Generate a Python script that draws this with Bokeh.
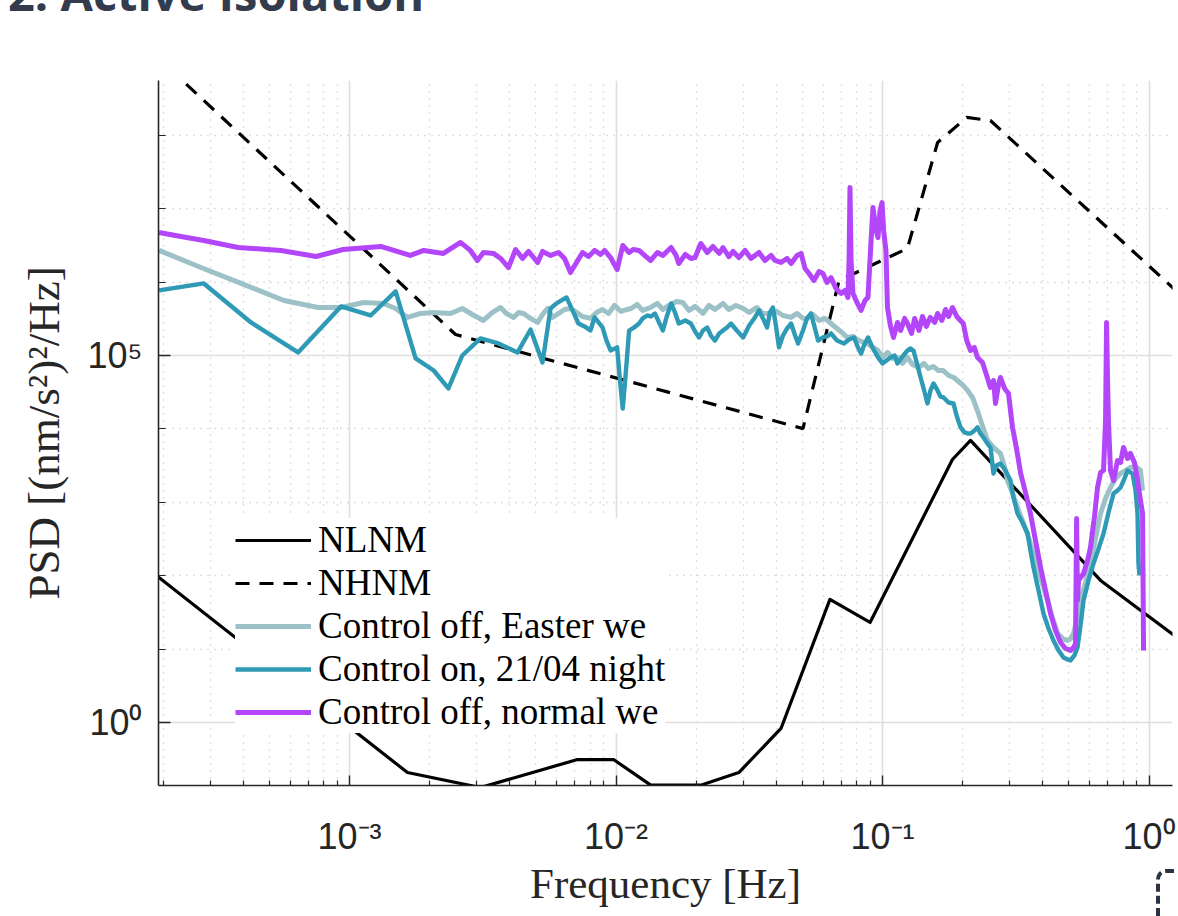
from bokeh.plotting import figure
from bokeh.layouts import column
from bokeh.models import Range1d, FixedTicker, Div
from bokeh.embed import file_html
from bokeh.resources import INLINE

# ---------------- data ----------------
nlnm_freq = [1.65e-4, 1.65e-3, 3.10e-3, 7.17e-3, 9.79e-3, 1.35e-2, 2.08e-2, 2.89e-2,
             4.16e-2, 6.35e-2, 8.98e-2, 1.83e-1, 2.14e-1, 6.58e-1, 1.32]
nlnm_psd = [147, 0.208, 0.130, 0.313, 0.313, 0.140, 0.140, 0.208,
            0.829, 47.5, 23.1, 3830, 6960, 86.2, 13.1]

nhnm_freq = [1.80e-4, 2.50e-3, 5.03e-2, 6.87e-2, 1.24e-1, 1.61e-1, 2.07e-1, 2.54e-1, 1.32]
nhnm_psd = [1.39e9, 1.93e5, 1.01e4, 1.05e6, 2.87e6, 7.99e7, 1.75e8, 1.59e8, 6.58e5]

easter_freq = [
    1.93e-4, 2.77e-4, 3.92e-4, 5.68e-4, 7.62e-4, 9.29e-4, 1.13e-3, 1.34e-3, 1.49e-3, 1.65e-3,
    1.85e-3, 2.07e-3, 2.39e-3, 2.65e-3, 2.89e-3, 3.18e-3, 3.44e-3, 3.69e-3, 3.88e-3, 4.13e-3,
    4.31e-3, 4.50e-3, 4.78e-3, 5.08e-3, 5.30e-3, 5.53e-3, 5.78e-3, 6.09e-3, 6.41e-3, 6.75e-3,
    7.11e-3, 7.49e-3, 8.02e-3, 8.45e-3, 8.90e-3, 9.37e-3, 9.87e-3, 1.044e-2, 1.10e-2, 1.14e-2,
    1.20e-2, 1.26e-2, 1.35e-2, 1.43e-2, 1.50e-2, 1.58e-2, 1.69e-2, 1.78e-2, 1.88e-2, 1.98e-2,
    2.12e-2, 2.23e-2, 2.35e-2, 2.52e-2, 2.65e-2, 2.82e-2, 3.00e-2, 3.16e-2, 3.38e-2, 3.56e-2,
    3.82e-2, 4.02e-2, 4.23e-2, 4.54e-2, 4.78e-2, 5.03e-2, 5.21e-2, 5.49e-2, 5.78e-2, 6.09e-2,
    6.41e-2, 6.75e-2, 7.05e-2, 7.36e-2, 7.75e-2, 8.16e-2, 8.75e-2, 9.21e-2, 9.62e-2, 1.00e-1,
    1.044e-1, 1.09e-1, 1.138e-1, 1.189e-1, 1.241e-1, 1.296e-1, 1.365e-1, 1.43e-1, 1.488e-1, 1.55e-1,
    1.62e-1, 1.69e-1, 1.77e-1, 1.85e-1, 1.929e-1, 2.01e-1, 2.085e-1, 2.177e-1, 2.27e-1, 2.37e-1,
    2.477e-1, 2.61e-1, 2.77e-1, 2.87e-1, 2.945e-1, 3.075e-1, 3.21e-1, 3.35e-1, 3.50e-1, 3.65e-1,
    3.82e-1, 3.98e-1, 4.16e-1, 4.34e-1, 4.54e-1, 4.74e-1, 4.95e-1, 5.08e-1, 5.21e-1, 5.39e-1,
    5.53e-1, 5.78e-1, 6.03e-1, 6.30e-1, 6.58e-1, 6.87e-1, 7.17e-1, 7.49e-1, 7.82e-1, 8.16e-1,
    8.52e-1, 8.90e-1, 9.29e-1, 9.46e-1]
easter_psd = [
    2.70e6, 1.58e6, 9.59e5, 5.62e5, 4.51e5, 4.51e5, 5.28e5, 5.12e5, 4.37e5, 3.30e5,
    3.74e5, 3.86e5, 3.74e5, 4.37e5, 3.62e5, 3.00e5, 3.86e5, 4.51e5, 3.74e5, 3.30e5,
    3.86e5, 3.74e5, 3.20e5, 2.82e5, 3.62e5, 4.37e5, 3.30e5, 3.74e5, 4.24e5, 4.37e5,
    3.86e5, 3.40e5, 3.20e5, 3.86e5, 4.24e5, 3.74e5, 4.81e5, 3.98e5, 4.24e5, 4.37e5,
    4.96e5, 4.11e5, 4.51e5, 5.12e5, 4.24e5, 4.81e5, 5.45e5, 5.28e5, 4.11e5, 4.66e5,
    3.74e5, 4.81e5, 4.24e5, 5.12e5, 4.24e5, 4.81e5, 4.37e5, 3.86e5, 4.51e5, 3.74e5,
    3.74e5, 3.98e5, 3.51e5, 3.30e5, 3.74e5, 3.20e5, 3.20e5, 3.62e5, 3.00e5, 3.20e5,
    2.73e5, 2.33e5, 2.06e5, 1.76e5, 1.82e5, 1.60e5, 1.46e5, 1.29e5, 1.17e5, 9.41e4,
    1.10e5, 9.13e4, 9.41e4, 7.79e4, 9.41e4, 7.54e4, 6.86e4, 7.79e4, 6.64e4, 7.10e4,
    6.25e4, 6.25e4, 5.35e4, 5.02e4, 4.42e4, 3.90e4, 3.34e4, 2.68e4, 1.78e4, 1.11e4,
    6.96e3, 5.58e3, 4.63e3, 3.08e3, 1.98e3, 1.32e3, 8.51e2, 5.64e2, 3.76e2, 2.21e2,
    1.29e2, 7.84e1, 4.60e1, 2.70e1, 1.63e1, 1.39e1, 1.31e1, 1.39e1, 1.63e1, 2.70e1,
    4.60e1, 8.10e1, 1.47e2, 3.21e2, 7.05e2, 1.13e3, 1.59e3, 2.11e3, 2.47e3, 2.71e3,
    2.98e3, 3.08e3, 2.71e3, 1.45e3]

night_freq = [
    1.93e-4, 2.84e-4, 4.27e-4, 6.41e-4, 9.29e-4, 1.20e-3, 1.49e-3, 1.77e-3, 2.07e-3, 2.35e-3,
    2.65e-3, 3.10e-3, 3.62e-3, 4.27e-3, 4.78e-3, 5.30e-3, 5.68e-3, 5.98e-3, 6.52e-3, 6.87e-3,
    7.23e-3, 7.62e-3, 8.02e-3, 8.31e-3, 8.60e-3, 8.90e-3, 9.21e-3, 9.54e-3, 1.01e-2, 1.035e-2,
    1.06e-2, 1.09e-2, 1.12e-2, 1.17e-2, 1.22e-2, 1.26e-2, 1.31e-2, 1.35e-2, 1.40e-2, 1.45e-2,
    1.50e-2, 1.55e-2, 1.61e-2, 1.67e-2, 1.72e-2, 1.82e-2, 1.91e-2, 1.98e-2, 2.05e-2, 2.12e-2,
    2.20e-2, 2.27e-2, 2.35e-2, 2.44e-2, 2.52e-2, 2.61e-2, 2.70e-2, 2.84e-2, 3.00e-2, 3.16e-2,
    3.32e-2, 3.44e-2, 3.56e-2, 3.69e-2, 3.78e-2, 3.88e-2, 3.98e-2, 4.09e-2, 4.23e-2, 4.38e-2,
    4.54e-2, 4.70e-2, 4.82e-2, 5.03e-2, 5.21e-2, 5.39e-2, 5.58e-2, 5.73e-2, 5.98e-2, 6.19e-2,
    6.41e-2, 6.75e-2, 7.17e-2, 7.49e-2, 7.82e-2, 8.09e-2, 8.31e-2, 8.52e-2, 8.82e-2, 9.21e-2,
    9.62e-2, 1.00e-1, 1.035e-1, 1.072e-1, 1.11e-1, 1.138e-1, 1.189e-1, 1.241e-1, 1.27e-1, 1.307e-1,
    1.353e-1, 1.39e-1, 1.44e-1, 1.475e-1, 1.514e-1, 1.554e-1, 1.609e-1, 1.65e-1, 1.694e-1, 1.769e-1,
    1.847e-1, 1.896e-1, 1.963e-1, 2.03e-1, 2.085e-1, 2.14e-1, 2.215e-1, 2.273e-1, 2.33e-1, 2.394e-1,
    2.477e-1, 2.543e-1, 2.609e-1, 2.68e-1, 2.772e-1, 2.894e-1, 3.022e-1, 3.101e-1, 3.211e-1, 3.352e-1,
    3.50e-1, 3.59e-1, 3.687e-1, 3.85e-1, 4.019e-1, 4.197e-1, 4.382e-1, 4.58e-1, 4.778e-1, 4.946e-1,
    5.076e-1, 5.25e-1, 5.392e-1, 5.534e-1, 5.679e-1, 5.93e-1, 6.192e-1, 6.47e-1, 6.751e-1, 7.049e-1,
    7.36e-1, 7.618e-1, 7.819e-1, 8.093e-1, 8.306e-1, 8.525e-1, 8.673e-1, 8.901e-1, 9.056e-1, 9.13e-1,
    9.213e-1]
night_psd = [
    7.70e5, 9.59e5, 2.82e5, 1.10e5, 4.66e5, 3.51e5, 7.46e5, 9.13e4, 6.25e4, 3.56e4,
    1.00e5, 1.71e5, 1.46e5, 1.10e5, 2.26e5, 8.04e4, 4.37e5, 5.12e5, 6.18e5, 4.11e5,
    2.73e5, 2.49e5, 2.19e5, 3.30e5, 2.82e5, 2.41e5, 1.60e5, 1.17e5, 1.29e5, 4.57e4,
    1.90e4, 6.25e4, 2.19e5, 2.41e5, 2.73e5, 3.20e5, 3.51e5, 3.40e5, 3.74e5, 2.82e5,
    2.19e5, 3.40e5, 5.12e5, 3.74e5, 2.73e5, 3.00e5, 2.73e5, 2.12e5, 1.76e5, 2.19e5,
    2.41e5, 1.87e5, 1.60e5, 2.00e5, 2.19e5, 2.41e5, 2.73e5, 2.19e5, 1.76e5, 2.57e5,
    3.30e5, 4.11e5, 3.20e5, 2.41e5, 3.86e5, 4.51e5, 2.57e5, 1.29e5, 1.87e5, 2.33e5,
    2.73e5, 1.87e5, 1.46e5, 2.19e5, 3.20e5, 3.74e5, 2.33e5, 1.60e5, 1.76e5, 1.82e5,
    2.00e5, 1.60e5, 1.46e5, 1.65e5, 1.76e5, 1.29e5, 1.06e5, 1.37e5, 1.76e5, 1.25e5,
    9.41e4, 7.79e4, 8.54e4, 9.41e4, 1.00e5, 7.79e4, 9.69e4, 1.17e5, 1.25e5, 1.17e5,
    7.30e4, 5.02e4, 3.13e4, 2.22e4, 3.34e4, 4.16e4, 3.34e4, 2.76e4, 2.68e4, 2.29e4,
    2.22e4, 1.52e4, 1.05e4, 8.95e3, 8.67e3, 8.67e3, 9.52e3, 1.05e4, 8.67e3, 7.63e3,
    6.31e3, 5.58e3, 2.47e3, 3.17e3, 3.38e3, 2.71e3, 1.98e3, 1.16e3, 7.05e2, 5.31e2,
    3.76e2, 2.21e2, 1.29e2, 6.30e1, 3.06e1, 1.91e1, 1.31e1, 9.59, 7.70, 7.23,
    7.01, 8.20, 1.05e1, 2.10e1, 4.60e1, 8.62e1, 1.47e2, 2.35e2, 3.76e2, 7.26e2,
    1.32e3, 1.45e3, 1.59e3, 2.11e3, 2.71e3, 2.55e3, 2.47e3, 1.45e3, 7.05e2, 1.47e2,
    1.01e2]

normal_freq = [
    1.93e-4, 2.33e-4, 2.84e-4, 3.82e-4, 5.53e-4, 7.49e-4, 9.46e-4, 1.31e-3, 1.69e-3, 1.90e-3,
    2.25e-3, 2.61e-3, 2.84e-3, 3.02e-3, 3.18e-3, 3.47e-3, 3.69e-3, 3.95e-3, 4.20e-3, 4.46e-3,
    4.70e-3, 5.08e-3, 5.30e-3, 5.68e-3, 6.09e-3, 6.41e-3, 6.75e-3, 7.11e-3, 7.49e-3, 7.89e-3,
    8.31e-3, 8.75e-3, 9.06e-3, 9.54e-3, 1.01e-2, 1.06e-2, 1.12e-2, 1.16e-2, 1.22e-2, 1.28e-2,
    1.35e-2, 1.43e-2, 1.50e-2, 1.61e-2, 1.68e-2, 1.72e-2, 1.82e-2, 1.91e-2, 1.98e-2, 2.08e-2,
    2.20e-2, 2.31e-2, 2.44e-2, 2.52e-2, 2.65e-2, 2.75e-2, 2.89e-2, 3.05e-2, 3.21e-2, 3.44e-2,
    3.62e-2, 3.82e-2, 3.95e-2, 4.16e-2, 4.38e-2, 4.54e-2, 4.78e-2, 4.95e-2, 5.12e-2, 5.30e-2,
    5.53e-2, 5.78e-2, 5.98e-2, 6.19e-2, 6.41e-2, 6.69e-2, 6.99e-2, 7.23e-2, 7.42e-2, 7.49e-2,
    7.55e-2, 7.62e-2, 7.75e-2, 8.02e-2, 8.31e-2, 8.60e-2, 8.82e-2, 9.06e-2, 9.21e-2, 9.46e-2,
    9.62e-2, 9.79e-2, 9.96e-2, 1.01e-1, 1.03e-1, 1.044e-1, 1.07e-1, 1.10e-1, 1.138e-1, 1.17e-1,
    1.21e-1, 1.241e-1, 1.285e-1, 1.32e-1, 1.37e-1, 1.413e-1, 1.46e-1, 1.51e-1, 1.57e-1, 1.609e-1,
    1.67e-1, 1.724e-1, 1.77e-1, 1.831e-1, 1.90e-1, 1.96e-1, 2.01e-1, 2.07e-1, 2.14e-1, 2.21e-1,
    2.273e-1, 2.373e-1, 2.46e-1, 2.54e-1, 2.61e-1, 2.655e-1, 2.72e-1, 2.77e-1, 2.87e-1, 2.97e-1,
    3.075e-1, 3.183e-1, 3.30e-1, 3.44e-1, 3.59e-1, 3.75e-1, 3.92e-1, 4.09e-1, 4.27e-1, 4.46e-1,
    4.66e-1, 4.86e-1, 5.08e-1, 5.21e-1, 5.30e-1, 5.35e-1, 5.39e-1, 5.44e-1, 5.68e-1, 5.88e-1,
    6.03e-1, 6.25e-1, 6.41e-1, 6.58e-1, 6.75e-1, 6.87e-1, 6.93e-1, 6.99e-1, 7.05e-1, 7.17e-1,
    7.36e-1, 7.62e-1, 7.82e-1, 8.02e-1, 8.31e-1, 8.52e-1, 8.82e-1, 9.06e-1, 9.29e-1, 9.46e-1,
    9.54e-1]
normal_psd = [
    4.75e6, 4.19e6, 3.69e6, 2.96e6, 2.70e6, 2.23e6, 2.78e6, 3.06e6, 2.31e6, 2.70e6,
    2.46e6, 3.47e6, 2.70e6, 1.97e6, 2.53e6, 2.46e6, 2.10e6, 1.58e6, 2.78e6, 2.10e6,
    2.62e6, 1.85e6, 2.62e6, 2.31e6, 2.53e6, 2.10e6, 1.35e6, 1.85e6, 2.53e6, 2.23e6,
    2.70e6, 2.38e6, 2.70e6, 2.16e6, 1.48e6, 3.15e6, 2.53e6, 2.78e6, 2.70e6, 2.31e6,
    1.97e6, 2.53e6, 2.31e6, 2.96e6, 2.31e6, 1.79e6, 2.38e6, 2.10e6, 2.16e6, 3.36e6,
    2.53e6, 3.06e6, 2.46e6, 2.96e6, 2.23e6, 2.62e6, 2.16e6, 2.70e6, 2.10e6, 2.53e6,
    1.97e6, 2.31e6, 1.97e6, 1.85e6, 2.10e6, 1.79e6, 2.31e6, 2.46e6, 1.53e6, 1.31e6,
    1.05e6, 1.39e6, 1.31e6, 9.90e5, 1.15e6, 8.20e5, 7.01e5, 7.70e5, 6.18e5, 1.97e6,
    1.95e7, 1.97e6, 7.01e5, 5.28e5, 4.11e5, 5.62e5, 6.18e5, 3.69e6, 1.04e7, 5.05e6,
    4.05e6, 9.47e6, 1.21e7, 5.05e6, 2.70e6, 4.51e5, 2.57e5, 1.76e5, 2.82e5, 2.19e5,
    3.20e5, 2.73e5, 2.00e5, 3.20e5, 2.19e5, 3.40e5, 2.49e5, 3.30e5, 2.82e5, 3.74e5,
    3.00e5, 4.24e5, 3.40e5, 4.51e5, 3.40e5, 3.00e5, 2.73e5, 1.60e5, 1.17e5, 1.29e5,
    9.41e4, 8.04e4, 5.35e4, 3.67e4, 4.57e4, 2.22e4, 3.90e4, 5.02e4, 3.56e4, 3.04e4,
    1.05e4, 5.41e3, 2.47e3, 1.36e3, 7.05e2, 3.01e2, 1.29e2, 6.30e1, 3.06e1, 1.79e1,
    1.23e1, 1.02e1, 9.59, 1.05e1, 1.19e1, 6.02e2, 4.60e1, 8.62e1, 1.07e2, 1.61e2,
    2.42e2, 6.61e2, 1.59e3, 2.55e3, 2.71e3, 1.30e4, 2.82e5, 4.57e4, 1.18e4, 2.71e3,
    1.98e3, 3.71e3, 3.49e3, 5.58e3, 3.95e3, 4.63e3, 3.49e3, 1.98e3, 1.06e3, 7.05e2,
    9.59]

x_tick_values = [1e-3, 1e-2, 1e-1, 1.0]
x_tick_labels = ["10⁻³", "10⁻²", "10⁻¹", "10⁰"]
y_tick_values = [1.0, 1e5]
y_tick_labels = ["10⁰", "10⁵"]
x_minor_values = [k * d for d in (1e-4, 1e-3, 1e-2, 1e-1, 1.0) for k in range(2, 10)]
y_minor_values = [1e-1, 1e1, 1e2, 1e3, 1e4, 1e6, 1e7, 1e8, 1e9]

legend_labels = ["NLNM", "NHNM", "Control off, Easter we",
                 "Control on, 21/04 night", "Control off, normal we"]
page_heading = "2. Active Isolation"

# ---------------- layout helpers (pixel -> data range ends) -------
def x_at(px):
    return 10 ** ((px - 882.0) / 266.5 - 1.0)


def y_at(px):
    return 10 ** ((722.0 - px) / 73.4)


AX = "#262626"
HEAD_H = 12

p = figure(width=1178, height=916 - HEAD_H, x_axis_type="log", y_axis_type="log",
           x_range=Range1d(x_at(158), x_at(1172)),
           y_range=Range1d(y_at(785), y_at(80)),
           output_backend="svg", toolbar_location=None,
           min_border_left=158, min_border_right=6,
           min_border_top=80 - HEAD_H, min_border_bottom=131)
p.outline_line_color = None
p.background_fill_color = "white"
p.border_fill_color = "white"

p.xaxis.ticker = FixedTicker(ticks=x_tick_values, minor_ticks=x_minor_values)
p.yaxis.ticker = FixedTicker(ticks=y_tick_values, minor_ticks=y_minor_values)
p.xaxis.major_label_overrides = dict(zip(x_tick_values, x_tick_labels))
p.yaxis.major_label_overrides = dict(zip(y_tick_values, y_tick_labels))

for ax in (p.xaxis[0], p.yaxis[0]):
    ax.axis_line_color = AX
    ax.axis_line_width = 1.6
    ax.major_tick_line_color = AX
    ax.minor_tick_line_color = AX
    ax.major_tick_line_width = 1.4
    ax.minor_tick_line_width = 1.2
    ax.major_tick_out = 0
    ax.minor_tick_out = 0
    ax.major_label_text_font = "Liberation Sans"
    ax.major_label_text_font_size = "36px"
    ax.major_label_text_color = AX
    ax.axis_label_text_font = "Liberation Serif"
    ax.axis_label_text_font_style = "normal"
    ax.axis_label_text_color = AX

p.xaxis.major_tick_in = 10
p.xaxis.minor_tick_in = 5
p.yaxis.major_tick_in = 12
p.yaxis.minor_tick_in = 7
p.xaxis.major_label_standoff = 30
p.yaxis.major_label_standoff = 16
p.xaxis.axis_label = "Frequency [Hz]"
p.yaxis.axis_label = "PSD [(nm/s²)²/Hz]"
p.xaxis.axis_label_text_font_size = "43px"
p.yaxis.axis_label_text_font_size = "45px"
p.xaxis.axis_label_standoff = 0
p.yaxis.axis_label_standoff = 16

for g in (p.xgrid[0], p.ygrid[0]):
    g.grid_line_color = "#dedede"
    g.grid_line_width = 1.6
    g.minor_grid_line_color = "#bdbdbd"
    g.minor_grid_line_width = 1.3
    g.minor_grid_line_dash = "1 6"

# ---------------- series ----------------
p.line(nlnm_freq, nlnm_psd, line_color="black", line_width=3.2,
       line_join="round", legend_label=legend_labels[0])
p.line(nhnm_freq, nhnm_psd, line_color="black", line_width=3.2,
       line_dash="14 10", legend_label=legend_labels[1])
p.line(easter_freq, easter_psd, line_color="#9cc2c8", line_width=5.0,
       line_join="round", legend_label=legend_labels[2])
p.line(night_freq, night_psd, line_color="#2f9ab5", line_width=4.4,
       line_join="round", legend_label=legend_labels[3])
p.line(normal_freq, normal_psd, line_color="#b446fa", line_width=5.0,
       line_join="round", legend_label=legend_labels[4])

lg = p.legend[0]
lg.location = (77, 52)
lg.label_text_font = "Liberation Serif"
lg.label_text_font_size = "37px"
lg.label_text_color = "black"
lg.glyph_width = 76
lg.glyph_height = 20
lg.label_standoff = 7
lg.spacing = -1
lg.padding = 8
lg.margin = 0
lg.border_line_color = None
lg.background_fill_color = "white"
lg.background_fill_alpha = 1.0

# ---------------- page surroundings: heading cut by the window's top edge,
# ---------------- and the corner of the next panel's dashed frame ---------
heading = Div(
    text='<span style="position:relative; top:-13px; white-space:nowrap;">'
         + page_heading + '</span>'
         + '<div style="position:absolute; left:1156px; top:869px; width:120px;'
           ' height:120px; border:4px dashed #2a3344; border-radius:10px;'
           ' box-sizing:border-box; z-index:20; pointer-events:none;"></div>',
    width=1178, height=HEAD_H, margin=(0, 0, 0, 0),
    styles={"font-family": "'Open Sans', sans-serif", "font-weight": "bold",
            "font-size": "47px", "color": "#323c4d", "line-height": "12px",
            "overflow": "visible", "padding-left": "8px", "z-index": "20"})

layout = column(heading, p, spacing=0)
open("out.html", "w").write(file_html(layout, INLINE))
